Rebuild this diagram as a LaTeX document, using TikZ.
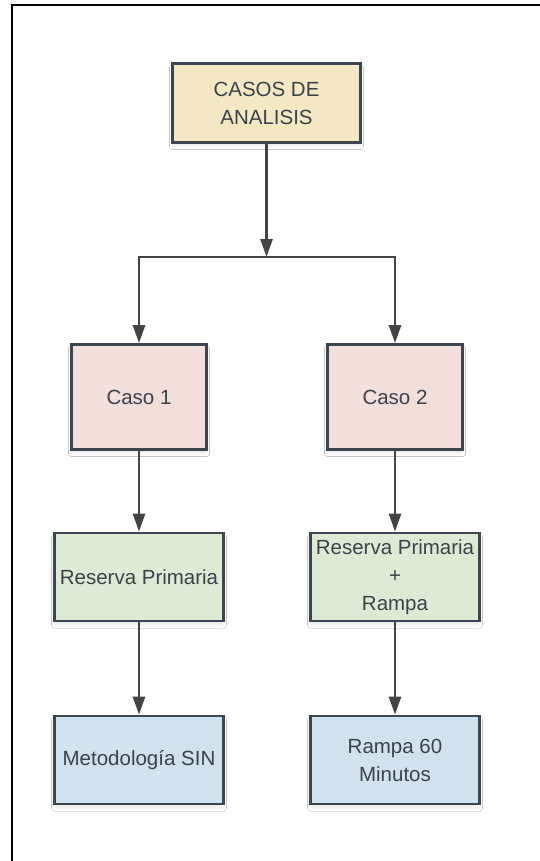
\documentclass[tikz,border=0pt]{standalone}
\usepackage{fontspec}
\setmainfont{Liberation Sans}
\usetikzlibrary{arrows.meta,shadows.blur}

\definecolor{edgecol}{HTML}{3B4651}
\definecolor{linkcol}{HTML}{444444}
\definecolor{txtcol}{HTML}{3A434C}
\definecolor{fillyellow}{HTML}{F3E8C3}
\definecolor{fillpink}{HTML}{F2DEDB}
\definecolor{fillgreen}{HTML}{DFEAD5}
\definecolor{fillblue}{HTML}{D0E2EE}

\tikzset{
  box/.style={draw=edgecol, line width=2.7pt, inner sep=0pt, align=center,
    text=txtcol, font=\fontsize{20.5}{28}\selectfont,
    blur shadow={shadow xshift=0pt, shadow yshift=-4pt, shadow blur radius=3pt, shadow opacity=8}},
  headbox/.style={box, fill=fillyellow, minimum width=188pt, minimum height=79pt},
  casebox/.style={box, fill=fillpink, minimum width=135pt, minimum height=105pt},
  resbox/.style={box, fill=fillgreen, minimum width=169pt, minimum height=88pt},
  outbox/.style={box, fill=fillblue, minimum width=169pt, minimum height=88pt},
  link/.style={draw=linkcol, line width=2.6pt},
  arrowlink/.style={link, -{Triangle[length=18pt, width=12pt]}},
}

\begin{document}
\begin{tikzpicture}[x=1pt, y=-1pt]
  \useasboundingbox (0,0) rectangle (539,861);
  \fill[white] (0,0) rectangle (539,861);
  % outer frame, open to the right and bottom
  \draw[black, line width=2pt] (12,900) -- (12,5) -- (560,5);

  \node[headbox] (head) at (266.5,103) {CASOS DE\\ANALISIS};
  \node[casebox] (c1) at (139,397) {Caso 1};
  \node[casebox] (c2) at (395,397) {Caso 2};
  \node[resbox] (r1) at (139,577) {Reserva Primaria};
  \node[resbox] (r2) at (395,577) {Reserva Primaria\\+\\Rampa};
  \node[outbox] (o1) at (139,760) {Metodología SIN};
  \node[outbox] (o2) at (395,760) {Rampa 60\\Minutos};

  \coordinate (split) at (266.5,257);

  \draw[arrowlink] (head) -- (split);
  \draw[arrowlink] (split) -| (c1);
  \draw[arrowlink] (split) -| (c2);
  \draw[arrowlink] (c1) -- (r1);
  \draw[arrowlink] (c2) -- (r2);
  \draw[arrowlink] (r1) -- (o1);
  \draw[arrowlink] (r2) -- (o2);
\end{tikzpicture}
\end{document}
